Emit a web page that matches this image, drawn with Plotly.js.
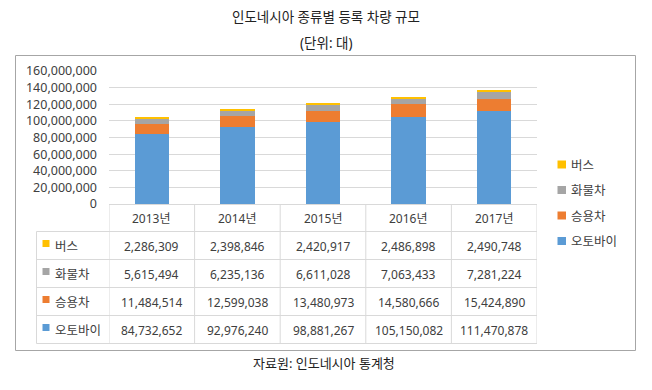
<!DOCTYPE html>
<html>
<head>
<meta charset="utf-8">
<script src="https://cdn.plot.ly/plotly-3.0.1.min.js"></script>
<style>
  html, body { margin: 0; padding: 0; background: #fff; }
  #chart { width: 652px; height: 390px; }
</style>
</head>
<body>
<div id="chart"></div>
<script>
// ---- Data ----
const years = ['2013년', '2014년', '2015년', '2016년', '2017년'];
const seriesNames = ['오토바이', '승용차', '화물차', '버스']; // bottom to top of stack
const motorcycle = [84732652, 92976240, 98881267, 105150082, 111470878];
const passengerCar = [11484514, 12599038, 13480973, 14580666, 15424890];
const truck = [5615494, 6235136, 6611028, 7063433, 7281224];
const bus = [2286309, 2398846, 2420917, 2486898, 2490748];
const yTickVals = [0, 20000000, 40000000, 60000000, 80000000, 100000000, 120000000, 140000000, 160000000];

const titleText = '인도네시아 종류별 등록 차량 규모';
const subtitleText = '(단위: 대)';
const sourceText = '자료원: 인도네시아 통계청';

// ---- Styling ----
const colors = ['#5B9BD5', '#ED7D31', '#A5A5A5', '#FFC000'];
const FONT = "'Noto Sans', 'Noto Sans CJK KR', sans-serif";
const TXT = '#404040';
const GRID = '#D9D9D9';

const seriesValues = [motorcycle, passengerCar, truck, bus];

// plot area geometry (pixels)
const L = 109, T = 71, W = 428, H = 133;
const px = x => (x - L) / W;
const py = y => (T + H - y) / H;

const traces = seriesValues.map((vals, i) => ({
  type: 'bar',
  name: seriesNames[i],
  x: years,
  y: vals,
  marker: { color: colors[i], line: { width: 0 } },
  hoverinfo: 'skip'
}));

const shapes = [];
const annotations = [];

// outer chart frame
shapes.push({ type: 'rect', xref: 'paper', yref: 'paper',
  x0: px(15.5), x1: px(635.5), y0: py(55.5), y1: py(350.5),
  line: { color: '#A6A6A6', width: 1 }, fillcolor: 'rgba(0,0,0,0)', layer: 'below' });

// data table grid
const rowBounds = [232, 260, 288, 316, 344];
const tableLeft = 36.5;
rowBounds.forEach(yb => {
  shapes.push({ type: 'line', xref: 'paper', yref: 'paper',
    x0: px(tableLeft), x1: px(537), y0: py(yb - 0.5), y1: py(yb - 0.5),
    line: { color: GRID, width: 1 } });
});
for (let i = 0; i <= years.length; i++) {
  shapes.push({ type: 'line', xref: 'x', yref: 'paper',
    x0: i - 0.5, x1: i - 0.5, y0: py(204), y1: py(343.5),
    line: { color: GRID, width: 1 } });
}
shapes.push({ type: 'line', xref: 'paper', yref: 'paper',
  x0: px(tableLeft), x1: px(tableLeft), y0: py(231.5), y1: py(343.5),
  line: { color: GRID, width: 1 } });

// header row (years)
years.forEach((yr, i) => {
  annotations.push({ xref: 'x', yref: 'paper', x: i, y: py(218.5),
    text: yr, showarrow: false, xanchor: 'center', yanchor: 'middle',
    font: { family: FONT, size: 12, color: TXT } });
});

// table rows: top row = last series (버스)
const fmt = v => v.toLocaleString('en-US');
for (let r = 0; r < seriesNames.length; r++) {
  const s = seriesNames.length - 1 - r;
  const top = rowBounds[r];
  const cy = top + 14.5;
  // key square
  shapes.push({ type: 'rect', xref: 'paper', yref: 'paper',
    x0: px(42.5), x1: px(49.5), y0: py(top + 8), y1: py(top + 15),
    fillcolor: colors[s], line: { width: 0 } });
  annotations.push({ xref: 'paper', yref: 'paper', x: px(52.5), y: py(cy),
    text: seriesNames[s], showarrow: false, xanchor: 'left', yanchor: 'middle',
    font: { family: FONT, size: 12.5, color: TXT } });
  seriesValues[s].forEach((v, i) => {
    annotations.push({ xref: 'x', yref: 'paper', x: i, y: py(cy),
      text: fmt(v), showarrow: false, xanchor: 'center', yanchor: 'middle',
      font: { family: FONT, size: 12, color: TXT } });
  });
}

// custom legend (top: 버스 ... bottom: 오토바이)
const legendY = [164.5, 190, 215.5, 241];
for (let r = 0; r < seriesNames.length; r++) {
  const s = seriesNames.length - 1 - r;
  const cy = legendY[r];
  shapes.push({ type: 'rect', xref: 'paper', yref: 'paper',
    x0: px(557.5), x1: px(566), y0: py(cy - 4), y1: py(cy + 4),
    fillcolor: colors[s], line: { width: 0 } });
  annotations.push({ xref: 'paper', yref: 'paper', x: px(568.5), y: py(cy + 0.5),
    text: seriesNames[s], showarrow: false, xanchor: 'left', yanchor: 'middle',
    font: { family: FONT, size: 12.5, color: TXT } });
}

// titles and source
annotations.push({ xref: 'paper', yref: 'paper', x: px(326), y: py(17),
  text: titleText, showarrow: false, xanchor: 'center', yanchor: 'middle',
  font: { family: FONT, size: 13.5, color: '#222' } });
annotations.push({ xref: 'paper', yref: 'paper', x: px(326), y: py(42.5),
  text: subtitleText, showarrow: false, xanchor: 'center', yanchor: 'middle',
  font: { family: FONT, size: 13.5, color: '#222' } });
annotations.push({ xref: 'paper', yref: 'paper', x: px(324), y: py(363),
  text: sourceText, showarrow: false, xanchor: 'center', yanchor: 'middle',
  font: { family: FONT, size: 13, color: '#222' } });

const layout = {
  width: 652, height: 390,
  margin: { l: L, r: 652 - L - W, t: T, b: 390 - T - H, pad: 0 },
  paper_bgcolor: '#fff', plot_bgcolor: '#fff',
  barmode: 'stack', bargap: 0.6,
  showlegend: false,
  hovermode: false,
  font: { family: FONT, size: 12, color: TXT },
  xaxis: { type: 'category', range: [-0.5, 4.5], showticklabels: false,
    showgrid: false, zeroline: false, showline: false, ticks: '' },
  yaxis: { range: [0, 160000000], tickvals: yTickVals, tickformat: ',d',
    showgrid: true, gridcolor: GRID, gridwidth: 1,
    zeroline: true, zerolinecolor: GRID, zerolinewidth: 1,
    showline: false, ticks: '', ticklabelstandoff: 11,
    tickfont: { family: FONT, size: 12.5, color: TXT } },
  shapes: shapes,
  annotations: annotations
};

Plotly.newPlot('chart', traces, layout, { displayModeBar: false, staticPlot: true });
</script>
</body>
</html>
